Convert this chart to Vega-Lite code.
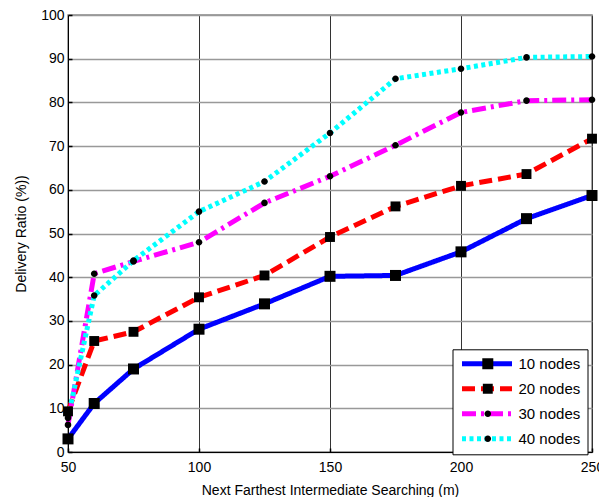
{
  "$schema": "https://vega.github.io/schema/vega-lite/v6.json",
  "width": 524,
  "height": 437,
  "autosize": {"type": "none"},
  "padding": {"left": 68, "top": 15, "right": 7, "bottom": 45},
  "background": "white",
  "config": {
    "font": "Liberation Sans",
    "view": {"stroke": "#888", "strokeWidth": 1.5},
    "axis": {
      "labelFont": "Liberation Sans",
      "labelFontSize": 14,
      "labelColor": "black",
      "titleFont": "Liberation Sans",
      "titleFontSize": 14,
      "titleFontWeight": "normal",
      "titleColor": "black",
      "domainColor": "black",
      "domainWidth": 1,
      "ticks": true,
      "tickSize": -4,
      "tickColor": "black",
      "tickWidth": 1.5
    },
    "legend": {
      "labelFont": "Liberation Sans",
      "labelFontSize": 15,
      "labelColor": "black"
    }
  },
  "data": {
    "values": [
      {"series": "10 nodes", "x": 50, "y": 3.0},
      {"series": "10 nodes", "x": 60, "y": 11.1},
      {"series": "10 nodes", "x": 75, "y": 19.0},
      {"series": "10 nodes", "x": 100, "y": 28.1},
      {"series": "10 nodes", "x": 125, "y": 33.9},
      {"series": "10 nodes", "x": 150, "y": 40.2},
      {"series": "10 nodes", "x": 175, "y": 40.4},
      {"series": "10 nodes", "x": 200, "y": 45.8},
      {"series": "10 nodes", "x": 225, "y": 53.4},
      {"series": "10 nodes", "x": 250, "y": 58.7},
      {"series": "20 nodes", "x": 50, "y": 9.3},
      {"series": "20 nodes", "x": 60, "y": 25.4},
      {"series": "20 nodes", "x": 75, "y": 27.5},
      {"series": "20 nodes", "x": 100, "y": 35.4},
      {"series": "20 nodes", "x": 125, "y": 40.4},
      {"series": "20 nodes", "x": 150, "y": 49.2},
      {"series": "20 nodes", "x": 175, "y": 56.2},
      {"series": "20 nodes", "x": 200, "y": 60.9},
      {"series": "20 nodes", "x": 225, "y": 63.6},
      {"series": "20 nodes", "x": 250, "y": 71.7},
      {"series": "30 nodes", "x": 50, "y": 6.2},
      {"series": "30 nodes", "x": 60, "y": 40.8},
      {"series": "30 nodes", "x": 75, "y": 43.6},
      {"series": "30 nodes", "x": 100, "y": 48.0},
      {"series": "30 nodes", "x": 125, "y": 57.0},
      {"series": "30 nodes", "x": 150, "y": 63.1},
      {"series": "30 nodes", "x": 175, "y": 70.2},
      {"series": "30 nodes", "x": 200, "y": 77.7},
      {"series": "30 nodes", "x": 225, "y": 80.4},
      {"series": "30 nodes", "x": 250, "y": 80.6},
      {"series": "40 nodes", "x": 50, "y": 7.8},
      {"series": "40 nodes", "x": 60, "y": 35.8},
      {"series": "40 nodes", "x": 75, "y": 43.8},
      {"series": "40 nodes", "x": 100, "y": 55.0},
      {"series": "40 nodes", "x": 125, "y": 61.9},
      {"series": "40 nodes", "x": 150, "y": 73.0},
      {"series": "40 nodes", "x": 175, "y": 85.4},
      {"series": "40 nodes", "x": 200, "y": 87.7},
      {"series": "40 nodes", "x": 225, "y": 90.3},
      {"series": "40 nodes", "x": 250, "y": 90.5}
    ]
  },
  "encoding": {
    "x": {
      "field": "x",
      "type": "quantitative",
      "scale": {"domain": [50, 250], "nice": false, "zero": false},
      "axis": {
        "values": [50, 100, 150, 200, 250],
        "title": "Next Farthest Intermediate Searching (m)",
        "grid": true,
        "gridColor": "#333",
        "gridWidth": 1,
        "labelFlush": false,
        "labelPadding": 12,
        "titlePadding": 9
      }
    },
    "y": {
      "field": "y",
      "type": "quantitative",
      "scale": {"domain": [0, 100], "nice": false},
      "axis": {
        "values": [0, 10, 20, 30, 40, 50, 60, 70, 80, 90, 100],
        "title": "Delivery Ratio (%))",
        "grid": true,
        "gridColor": "#999",
        "gridWidth": 1.5,
        "labelFlush": false,
        "labelPadding": 8,
        "titlePadding": 12
      }
    }
  },
  "layer": [
    {
      "mark": {"type": "line", "strokeWidth": 5, "strokeCap": "butt"},
      "encoding": {
        "color": {
          "field": "series",
          "type": "nominal",
          "scale": {
            "domain": ["10 nodes", "20 nodes", "30 nodes", "40 nodes"],
            "range": ["#0000ff", "#ff0000", "#ff00ff", "#00ffff"]
          },
          "legend": {
            "title": null,
            "orient": "none",
            "legendX": 384.5,
            "legendY": 334.3,
            "symbolType": "stroke",
            "symbolSize": 2500,
            "symbolStrokeWidth": 5,
            "clipHeight": 15,
            "labelOffset": 4,
            "padding": 7,
            "rowPadding": 9,
            "fillColor": "white",
            "strokeColor": "black",
            "zindex": 1
          }
        },
        "strokeDash": {
          "field": "series",
          "type": "nominal",
          "scale": {
            "domain": ["10 nodes", "20 nodes", "30 nodes", "40 nodes"],
            "range": [[1, 0], [13, 6], [14, 5, 3, 5], [4, 3.5]]
          }
        }
      }
    },
    {
      "mark": {"type": "point", "filled": true, "color": "black", "opacity": 1, "size": 121},
      "encoding": {
        "shape": {
          "field": "series",
          "type": "nominal",
          "scale": {
            "range": [
              "M-1,-1H1V1H-1Z",
              "M-0.9,-0.9H0.9V0.9H-0.9Z",
              "M-0.6,0A0.6,0.6 0 1,0 0.6,0A0.6,0.6 0 1,0 -0.6,0Z",
              "M-0.6,0A0.6,0.6 0 1,0 0.6,0A0.6,0.6 0 1,0 -0.6,0Z"
            ]
          },
          "legend": {
            "title": null,
            "orient": "none",
            "legendX": 405.3,
            "legendY": 334.3,
            "padding": 7,
            "rowPadding": 9,
            "clipHeight": 15,
            "labelOffset": 0,
            "labelExpr": "''",
            "symbolFillColor": "black",
            "symbolStrokeWidth": 0,
            "symbolSize": 121,
            "zindex": 2
          }
        }
      }
    }
  ]
}
